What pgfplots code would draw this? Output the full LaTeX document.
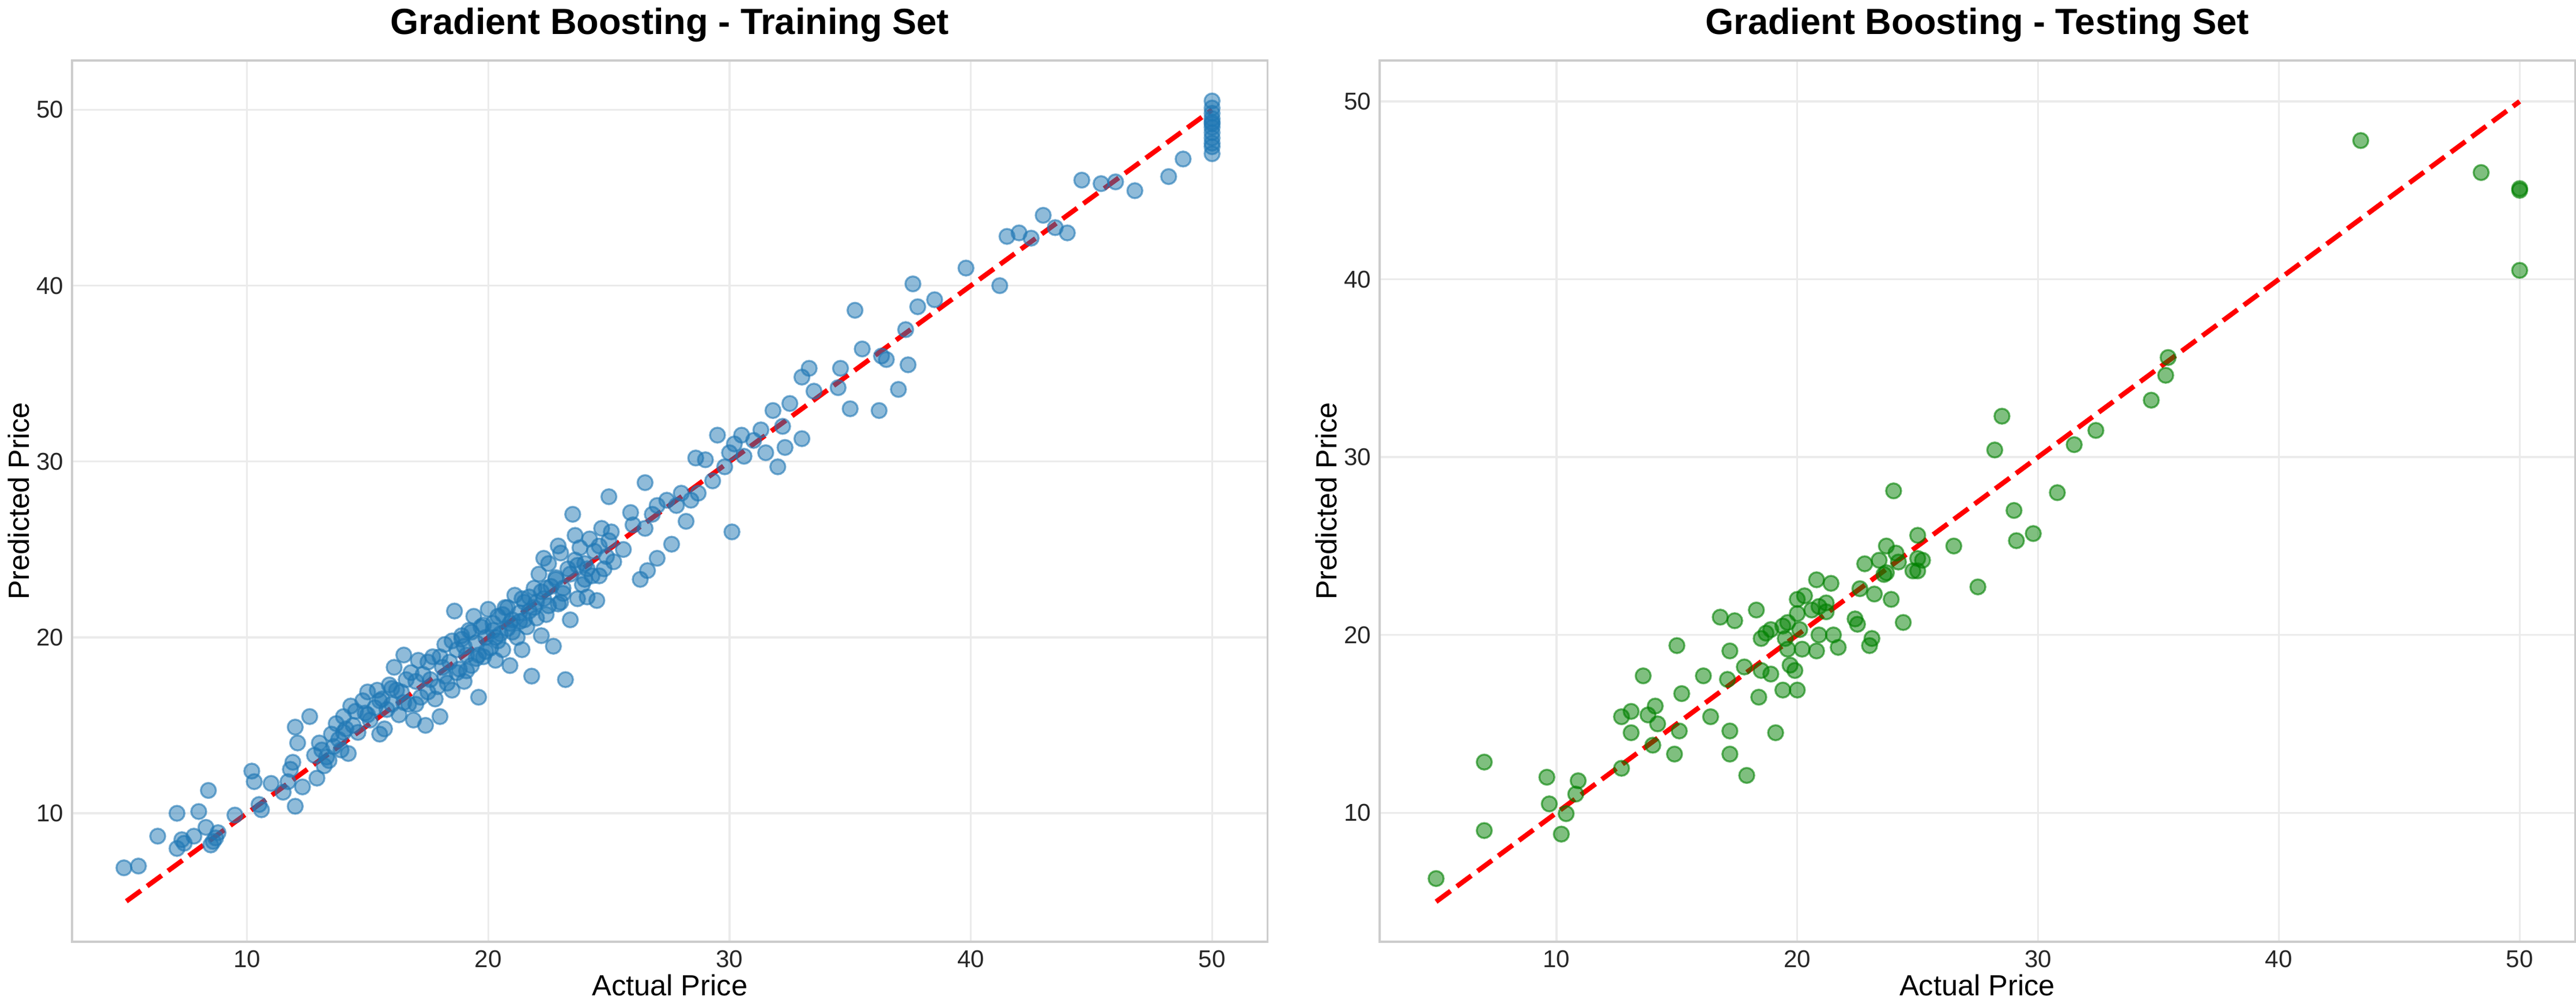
\documentclass[border=0pt]{standalone}
\usepackage{pgfplots}
\pgfplotsset{compat=1.18}
\usepackage{fontspec}
\setmainfont{Liberation Sans}
\definecolor{tblue}{HTML}{1F77B4}
\definecolor{tgreen}{HTML}{008000}
\definecolor{gridc}{HTML}{EBEBEB}
\definecolor{spine}{HTML}{CCCCCC}
\pgfplotsset{
  base/.style={
    width=17.3cm, height=12.75cm, scale only axis,
    /pgf/number format/assume math mode=true,
    tick label style={font=\fontsize{10}{12}\selectfont, color=black!85},
    label style={font=\fontsize{12}{14}\selectfont},
    title style={font=\fontsize{15}{18}\selectfont\bfseries, yshift=-2pt},
    grid=major, major grid style={gridc, line width=0.8pt},
    axis line style={spine, line width=0.8pt},
    major tick length=0pt,
    xtick={10,20,30,40,50}, ytick={10,20,30,40,50},
    xlabel={Actual Price}, ylabel={Predicted Price},
    ylabel style={yshift=-4pt}, xlabel style={yshift=4pt},
  },
  diag/.style={red, line width=2pt, dash pattern=on 7.4pt off 3.2pt},
}
\begin{document}
\begin{tikzpicture}
\begin{axis}[base, title={Gradient Boosting - Training Set},
  xmin=2.75, xmax=52.3, ymin=2.7, ymax=52.8]
\addplot[only marks, mark=*, mark size=3.1pt, color=tblue, mark options={fill opacity=0.5, draw opacity=0.6, line width=0.8pt}] coordinates {
(4.9,6.9)(5.5,7.0)(6.3,8.7)(7.1,10.0)(7.1,8.0)(7.3,8.5)(7.4,8.3)(7.8,8.7)(8.0,10.1)(8.3,9.2)(8.5,8.2)(8.4,11.3)(8.7,8.6)(8.8,8.9)(8.6,8.4)(9.5,9.9)
(10.2,12.4)(10.3,11.8)(10.5,10.5)(10.6,10.2)(11.0,11.7)(11.5,11.2)(11.8,12.5)(11.9,12.9)(12.0,14.9)(12.1,14.0)(12.3,11.5)(12.6,15.5)(12.8,13.3)(12.9,12.0)(13.2,12.7)(12.0,10.4)(11.7,11.8)
(13.0,14.0)(13.3,13.2)(13.5,14.5)(13.4,13.0)(13.7,15.1)(13.8,14.2)(13.9,13.6)(14.0,15.5)(14.1,14.8)(14.3,16.1)(14.4,15.0)(14.2,13.4)(14.6,14.6)(14.8,16.4)(14.9,15.7)(15.0,16.9)(15.1,15.3)(15.3,16.0)(15.4,17.0)(15.5,14.5)(15.6,16.5)(15.8,15.9)(15.9,17.3)(16.0,16.2)(15.7,14.8)(16.1,18.3)(16.2,17.0)(16.3,15.6)(16.4,16.9)(16.5,19.0)(16.6,17.6)(16.7,16.2)(16.8,18.0)(16.9,15.3)(17.0,17.5)(17.1,18.7)(17.2,16.6)(17.3,17.9)(17.4,15.0)(17.5,16.9)(17.6,17.6)(17.7,18.9)(17.8,16.5)(17.9,17.2)(18.0,15.5)(18.1,18.3)(18.2,19.6)(18.3,17.4)(18.4,18.6)(18.5,17.0)(18.6,21.5)(18.7,19.3)(18.8,18.2)(18.9,20.1)(19.0,17.5)(19.1,19.0)(19.2,20.4)(19.3,18.4)(19.4,21.2)(19.5,19.7)(19.6,16.6)(19.7,20.6)(19.8,18.9)(19.9,20.0)(20.0,21.6)(20.1,19.4)(20.2,20.8)(20.3,18.7)(20.4,21.2)(20.5,20.2)(20.6,19.3)(20.7,21.7)(20.8,20.5)(20.9,18.4)(21.0,21.0)(21.1,22.4)(21.2,20.0)(21.3,21.4)(21.4,19.3)(21.5,22.0)(21.6,20.6)(21.7,21.5)(21.8,17.8)(21.9,22.8)(22.0,21.1)(22.1,23.6)(22.2,20.1)(22.3,22.2)(22.4,21.3)(22.5,24.2)(22.6,22.9)(22.7,19.5)(22.8,23.3)(22.9,21.9)(23.0,24.8)(23.1,22.5)(23.2,17.6)(23.3,23.9)(23.4,21.0)(23.5,27.0)(23.6,24.4)(23.7,22.2)(23.8,25.1)(23.9,23.0)(24.0,24.2)(24.1,22.3)(24.2,25.6)(24.3,23.5)(24.4,24.9)(24.5,22.1)(24.6,25.2)(24.7,26.2)(24.8,23.9)(24.9,24.6)(25.0,28.0)(25.1,26.0)(25.2,24.3)(25.0,25.5)
(18.9,19.9)(19.3,20.3)(19.6,19.0)(20.2,20.4)(20.6,21.3)(21.0,20.3)(21.3,20.9)(21.7,22.3)(22.2,22.6)(22.5,21.8)(22.8,23.4)(23.1,22.8)(23.4,23.6)(23.7,24.1)(24.0,23.3)(22.0,22.0)(21.5,21.0)(20.8,21.7)(20.3,20.0)(19.8,20.7)(19.1,18.1)(18.5,19.8)(18.0,18.9)(17.5,18.6)(17.0,16.2)(16.5,16.3)(16.0,17.1)(15.5,16.4)(15.0,15.6)(14.5,15.8)(14.0,14.6)(13.6,13.8)(13.1,13.6)
(22.3,24.5)(22.9,25.2)(23.6,25.8)(24.1,23.9)(24.6,23.5)(23.0,22.0)(22.4,22.8)(21.9,21.7)(21.4,22.2)(20.9,20.8)(20.4,19.8)(19.9,19.2)(19.5,18.8)(19.0,19.5)(18.7,18.0)(18.2,17.8)
(26.0,26.4)(26.5,28.8)(26.5,26.2)(27.0,27.5)(27.0,24.5)(27.6,25.3)(26.6,23.8)(26.3,23.3)(27.4,27.8)(27.8,27.5)(28.0,28.2)(28.4,27.8)(28.7,28.2)(28.6,30.2)(29.0,30.1)(29.5,31.5)(29.8,29.7)(30.0,30.5)(30.1,26.0)(30.2,31.0)(30.5,31.5)(30.6,30.3)(31.3,31.8)(31.5,30.5)(32.0,29.7)(32.2,32.0)(32.3,30.8)(31.8,32.9)(32.5,33.3)(33.0,31.3)(33.0,34.8)(33.3,35.3)(33.5,34.0)(34.5,34.2)(34.6,35.3)(35.0,33.0)(35.2,38.6)(35.5,36.4)(36.2,32.9)(36.3,36.0)(36.5,35.8)(37.0,34.1)(37.3,37.5)(37.4,35.5)(37.6,40.1)(37.8,38.8)(38.5,39.2)(39.8,41.0)(41.2,40.0)(41.5,42.8)(42.0,43.0)(42.5,42.7)(43.0,44.0)(43.5,43.3)(44.0,43.0)(44.6,46.0)(45.4,45.8)(46.0,45.9)(46.8,45.4)(48.2,46.2)(48.8,47.2)(28.2,26.6)(29.3,28.9)(31.0,31.2)(25.6,25.0)(25.9,27.1)(26.8,27.0)
(50,47.5)(50,47.9)(50,48.4)(50,48.7)(50,49.0)(50,49.2)(50,49.5)(50,49.8)(50,50.1)(50,50.5)(50,48.1)(50,49.3)
};
\addplot[diag] coordinates {(5,5)(50,50)};
\end{axis}
\begin{axis}[base, at={(18.92cm,0)}, title={Gradient Boosting - Testing Set},
  xmin=2.65, xmax=52.3, ymin=2.75, ymax=52.3]
\addplot[only marks, mark=*, mark size=3.1pt, color=tgreen, mark options={fill opacity=0.5, draw opacity=0.6, line width=0.8pt}] coordinates {
(5.0,6.3)(7.0,12.85)(7.0,9.0)(9.6,12.0)(9.7,10.5)(10.9,11.8)(10.8,11.05)(10.4,9.95)(10.2,8.8)(12.7,12.5)(12.7,15.4)(13.1,15.7)(13.1,14.5)(13.6,17.7)(13.8,15.5)(14.1,16.0)(14.2,15.0)(14.0,13.8)(15.1,14.6)(14.9,13.3)(15.2,16.7)(15.0,19.4)(16.1,17.7)(16.4,15.4)(16.8,21.0)(17.4,20.8)(17.2,19.1)(17.1,17.5)(17.2,14.6)(17.2,13.3)(17.9,12.1)(17.8,18.2)(18.5,18.0)(18.9,17.8)(18.4,16.5)(19.1,14.5)(18.3,21.4)(18.5,19.8)(18.7,20.1)(18.9,20.3)(19.4,20.5)(19.6,20.7)(19.5,19.8)(20.1,20.3)(19.6,19.2)(20.2,19.2)(20.8,19.1)(19.7,18.3)(19.9,18.0)(19.4,16.9)(20.0,16.9)(20.0,21.2)(20.0,22.0)(20.3,22.2)(20.8,23.1)(21.4,22.9)(20.6,21.4)(20.9,21.6)(21.2,21.8)(21.2,21.3)(20.9,20.0)(21.5,20.0)(21.7,19.3)(22.4,20.9)(22.5,20.6)(22.6,22.6)(23.2,22.3)(23.1,19.8)(23.0,19.4)(22.8,24.0)(23.4,24.2)(23.7,25.0)(24.1,24.6)(24.2,24.1)(23.7,23.5)(23.6,23.4)(23.9,22.0)(24.4,20.7)(24.0,28.1)(25.0,25.6)(25.0,24.3)(25.2,24.2)(24.8,23.6)(25.0,23.6)(26.5,25.0)(27.5,22.7)(28.2,30.4)(29.0,27.0)(29.1,25.3)(29.8,25.7)(30.8,28.0)
(28.5,32.3)(31.5,30.7)(32.4,31.5)(34.7,33.2)(35.3,34.6)(35.4,35.6)(43.4,47.8)(48.4,46.0)(50,45.1)(50,45.0)(50,40.5)
};
\addplot[diag] coordinates {(5,5)(50,50)};
\end{axis}
\end{tikzpicture}
\end{document}
